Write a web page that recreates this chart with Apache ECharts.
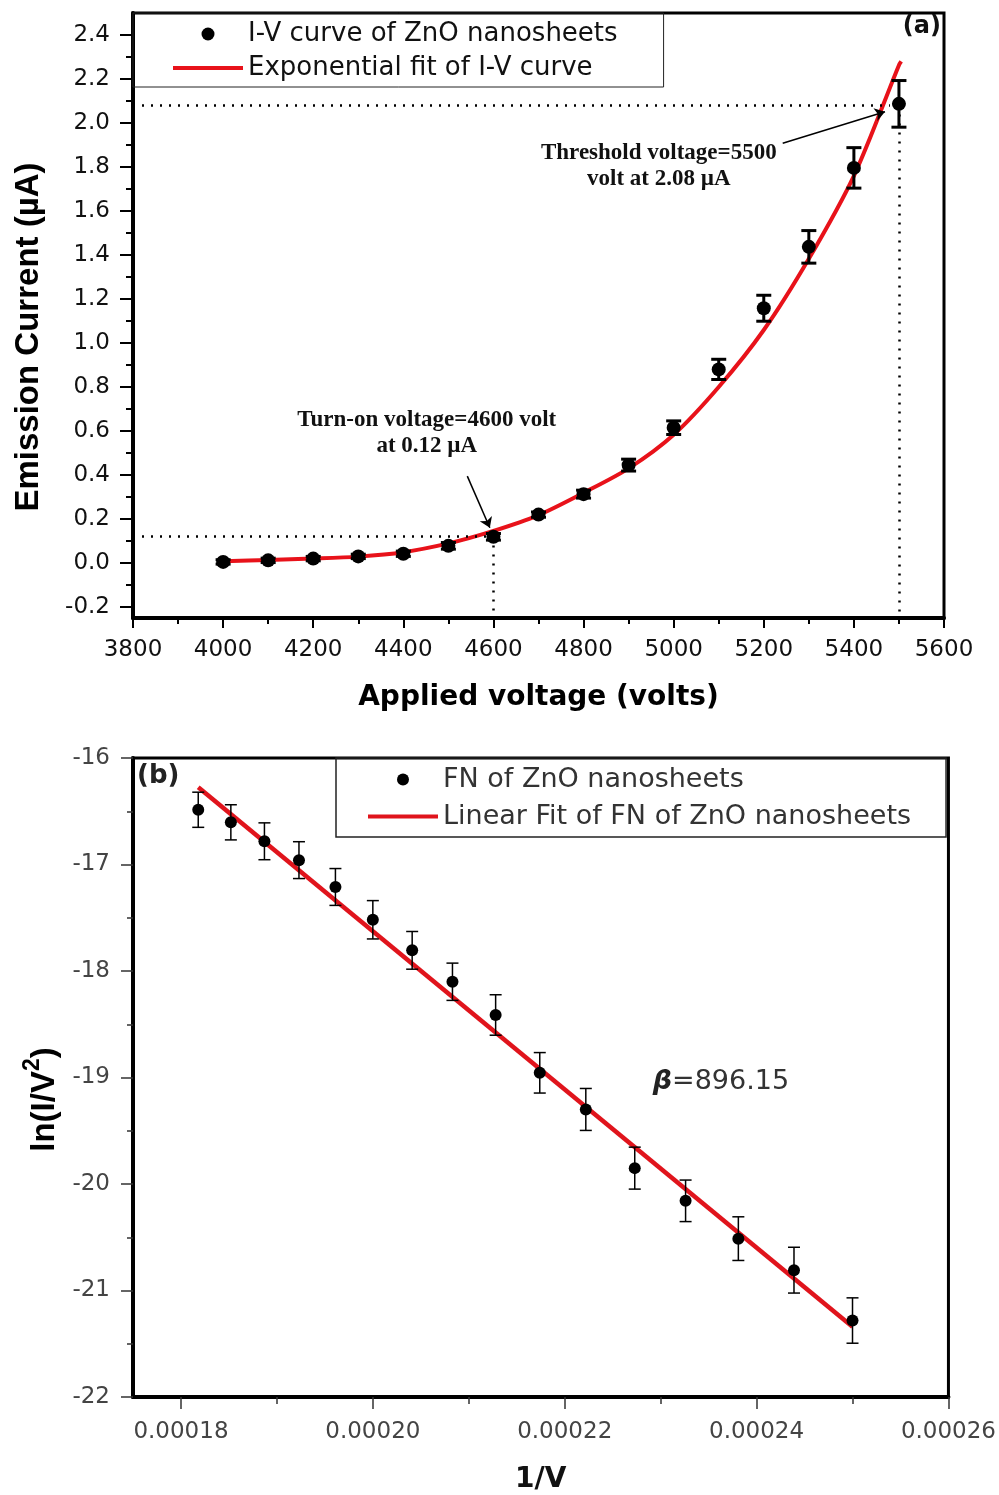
<!DOCTYPE html>
<html>
<head>
<meta charset="utf-8">
<title>ZnO nanosheets field emission</title>
<script src="https://cdn.jsdelivr.net/npm/echarts@6/dist/echarts.min.js"></script>
<style>
html, body { margin: 0; padding: 0; background: #fff; }
#main { width: 999px; height: 1495px; }
</style>
</head>
<body>
<div id="main"></div>
<script>
// (a) I-V curve
var voltage = [4000, 4100, 4200, 4300, 4400, 4500, 4600, 4700, 4800, 4900, 5000, 5100, 5200, 5300, 5400, 5500];
var current = [0.005, 0.012, 0.02, 0.03, 0.042, 0.078, 0.119, 0.22, 0.313, 0.445, 0.615, 0.88, 1.158, 1.437, 1.796, 2.087];
var currentErr = [0.01, 0.01, 0.01, 0.01, 0.012, 0.015, 0.015, 0.012, 0.018, 0.027, 0.031, 0.046, 0.059, 0.074, 0.092, 0.106];
var fitVoltage = [4000, 4100, 4200, 4300, 4400, 4500, 4600, 4700, 4800, 4900, 5000, 5100, 5200, 5300, 5400, 5500, 5505];
var fitCurrent = [0.008, 0.014, 0.02, 0.029, 0.049, 0.089, 0.146, 0.218, 0.319, 0.43, 0.583, 0.8, 1.059, 1.383, 1.76, 2.263, 2.28];
var ivTicks = [-0.2, 0, 0.2, 0.4, 0.6, 0.8, 1.0, 1.2, 1.4, 1.6, 1.8, 2.0, 2.2, 2.4];
var ivMinorTicks = [-0.1, 0.1, 0.3, 0.5, 0.7, 0.9, 1.1, 1.3, 1.5, 1.7, 1.9, 2.1, 2.3];
var turnOn = [4600, 0.12];
var threshold = [5500, 2.08];

// (b) FN plot
var invV = [0.0001818, 0.0001852, 0.0001887, 0.0001923, 0.0001961, 0.0002, 0.0002041, 0.0002083,
            0.0002128, 0.0002174, 0.0002222, 0.0002273, 0.0002326, 0.0002381, 0.0002439, 0.00025];
var lnIV2 = [-16.486, -16.604, -16.782, -16.959, -17.211, -17.519, -17.806, -18.101,
             -18.413, -18.956, -19.3, -19.851, -20.158, -20.513, -20.809, -21.282];
var lnErr = [0.165, 0.165, 0.173, 0.173, 0.173, 0.18, 0.177, 0.175,
             0.19, 0.19, 0.197, 0.197, 0.195, 0.205, 0.215, 0.213];
var fnFitX = [0.0001818, 0.00025];
var fnFitY = [-16.275, -21.34];
var fnTicks = [0.00018, 0.0002, 0.00022, 0.00024, 0.00026];
var fnMinorTicks = [0.00019, 0.00021, 0.00023, 0.00025];

function pairs(xs, ys) {
    var out = [];
    for (var i = 0; i < xs.length; i++) out.push([xs[i], ys[i]]);
    return out;
}
function triples(xs, ys, es) {
    var out = [];
    for (var i = 0; i < xs.length; i++) out.push([xs[i], ys[i], es[i]]);
    return out;
}

function errorBar(capW, lw) {
    return function (params, api) {
        var x = api.value(0), y = api.value(1), e = api.value(2);
        var hi = api.coord([x, y + e]);
        var lo = api.coord([x, y - e]);
        var st = { stroke: '#000', lineWidth: lw };
        return {
            type: 'group',
            children: [
                { type: 'line', shape: { x1: hi[0], y1: hi[1], x2: lo[0], y2: lo[1] }, style: st },
                { type: 'line', shape: { x1: hi[0] - capW / 2, y1: hi[1], x2: hi[0] + capW / 2, y2: hi[1] }, style: st },
                { type: 'line', shape: { x1: lo[0] - capW / 2, y1: lo[1], x2: lo[0] + capW / 2, y2: lo[1] }, style: st }
            ]
        };
    };
}

var tickFont = 'DejaVu Sans';
var dotted = { color: '#000', width: 2.5, type: [2, 7] };
var lineIcon = 'path://M0,0H70V4H0Z';

var myChart = echarts.init(document.getElementById('main'));
var option = {
    animation: false,
    backgroundColor: '#fff',
    grid: [
        { left: 133, right: 55, top: 13, height: 605, show: true, borderColor: '#000', borderWidth: 3 },
        { left: 133, right: 50, top: 758, height: 640, show: true, borderColor: '#000', borderWidth: 3 }
    ],
    legend: [
        {
            data: [{ name: 'I-V curve of ZnO nanosheets', icon: 'circle' },
                   { name: 'Exponential fit of I-V curve', icon: lineIcon }],
            orient: 'vertical', left: 133, top: 13,
            padding: [8, 46, 6, 40], itemGap: 8, itemWidth: 70, itemHeight: 13,
            borderColor: '#222', borderWidth: 1, selectedMode: false,
            textStyle: { fontFamily: tickFont, fontSize: 26, lineHeight: 26, color: '#111' }
        },
        {
            data: [{ name: 'FN of ZnO nanosheets', icon: 'circle' },
                   { name: 'Linear Fit of FN of ZnO nanosheets', icon: lineIcon }],
            orient: 'vertical', left: 336, top: 758,
            padding: [8, 35, 7, 32], itemGap: 10, itemWidth: 70, itemHeight: 12,
            borderColor: '#222', borderWidth: 1.5, selectedMode: false,
            textStyle: { fontFamily: tickFont, fontSize: 27, lineHeight: 27, color: '#333' }
        }
    ],
    xAxis: [
        {
            gridIndex: 0, type: 'value', min: 3800, max: 5600, interval: 200,
            name: 'Applied voltage (volts)', nameLocation: 'middle', nameGap: 66,
            nameTextStyle: { fontFamily: tickFont, fontWeight: 'bold', fontSize: 28, color: '#000' },
            axisLine: { onZero: false, lineStyle: { color: '#000', width: 4 } },
            axisTick: { length: 10, lineStyle: { color: '#000', width: 2 } },
            minorTick: { show: true, splitNumber: 2, length: 6, lineStyle: { color: '#000', width: 2 } },
            axisLabel: {
                margin: 21, fontFamily: tickFont, fontSize: 23, color: '#111',
                formatter: function (v) { return String(v); }
            },
            splitLine: { show: false }
        },
        {
            gridIndex: 1, type: 'value', min: 0.000175, max: 0.00026,
            name: '1/V', nameLocation: 'middle', nameGap: 69,
            nameTextStyle: { fontFamily: tickFont, fontWeight: 'bold', fontSize: 28, color: '#111' },
            axisLine: { onZero: false, lineStyle: { color: '#000', width: 4 } },
            axisTick: { customValues: fnTicks, length: 12, lineStyle: { color: '#333', width: 1.5 } },
            axisLabel: {
                customValues: fnTicks, margin: 24, fontFamily: tickFont, fontSize: 23, color: '#444',
                formatter: function (v) { return v.toFixed(5); }
            },
            splitLine: { show: false }
        },
        {
            gridIndex: 1, type: 'value', min: 0.000175, max: 0.00026, position: 'bottom',
            axisLine: { show: false, onZero: false }, axisLabel: { show: false }, splitLine: { show: false },
            axisTick: { customValues: fnMinorTicks, length: 7, lineStyle: { color: '#333', width: 1.5 } }
        }
    ],
    yAxis: [
        {
            gridIndex: 0, type: 'value', min: -0.25, max: 2.5, position: 'left',
            name: 'Emission Current (µA)', nameLocation: 'middle', nameGap: 88,
            nameTextStyle: { fontFamily: 'Liberation Sans', fontWeight: 'bold', fontSize: 33, color: '#000', padding: [0, 43, 0, 0] },
            axisLine: { onZero: false, lineStyle: { color: '#000', width: 4 } },
            axisTick: { customValues: ivTicks, length: 13, lineStyle: { color: '#000', width: 2 } },
            axisLabel: {
                customValues: ivTicks, margin: 23, fontFamily: tickFont, fontSize: 23, color: '#111',
                formatter: function (v) { return v.toFixed(1); }
            },
            splitLine: { show: false }
        },
        {
            gridIndex: 0, type: 'value', min: -0.25, max: 2.5, position: 'left',
            axisLine: { show: false, onZero: false }, axisLabel: { show: false }, splitLine: { show: false },
            axisTick: { customValues: ivMinorTicks, length: 7, lineStyle: { color: '#000', width: 2 } }
        },
        {
            gridIndex: 1, type: 'value', min: -22, max: -16, interval: 1, position: 'left',
            name: '{a|ln(I/V}{s|2}{a|)}', nameLocation: 'middle', nameGap: 66,
            nameTextStyle: {
                padding: [0, 44, 0, 0],
                rich: {
                    a: { fontFamily: 'Liberation Sans', fontWeight: 'bold', fontSize: 33, color: '#000', lineHeight: 40, verticalAlign: 'bottom' },
                    s: { fontFamily: 'Liberation Sans', fontWeight: 'bold', fontSize: 23, color: '#000', verticalAlign: 'top' }
                }
            },
            axisLine: { onZero: false, lineStyle: { color: '#000', width: 4 } },
            axisTick: { length: 12, lineStyle: { color: '#333', width: 1.5 } },
            minorTick: { show: true, splitNumber: 2, length: 6, lineStyle: { color: '#333', width: 1.5 } },
            axisLabel: { margin: 23, fontFamily: tickFont, fontSize: 23, color: '#444' },
            splitLine: { show: false }
        }
    ],
    graphic: [
        { type: 'text', right: 58, top: 15, style: { text: '(a)', font: 'bold 24px "DejaVu Sans"', fill: '#111' } },
        { type: 'text', left: 137, top: 763, style: { text: '(b)', font: 'bold 26px "DejaVu Sans"', fill: '#222' } }
    ],
    series: [
        {
            name: 'Exponential fit of I-V curve', type: 'line', xAxisIndex: 0, yAxisIndex: 0,
            data: pairs(fitVoltage, fitCurrent), smooth: 0.3, symbol: 'none', z: 3,
            itemStyle: { color: '#e8121a' },
            lineStyle: { color: '#e8121a', width: 4 },
            markLine: {
                silent: true, symbol: ['none', 'none'], label: { show: false },
                lineStyle: dotted,
                data: [
                    [{ coord: [3800, threshold[1]] }, { coord: [5480, threshold[1]] }],
                    [{ coord: [threshold[0], threshold[1]] }, { coord: [threshold[0], -0.25] }],
                    [{ coord: [3800, turnOn[1]] }, { coord: [turnOn[0], turnOn[1]] }],
                    [{ coord: [turnOn[0], turnOn[1]] }, { coord: [turnOn[0], -0.25] }]
                ]
            },
            markPoint: {
                silent: true, symbol: 'rect', symbolSize: 1, itemStyle: { color: 'rgba(0,0,0,0)' },
                label: {
                    show: true, position: 'inside', align: 'center', verticalAlign: 'middle',
                    fontFamily: 'Liberation Serif', fontWeight: 'bold', fontSize: 23, lineHeight: 26, color: '#111'
                },
                data: [
                    { coord: [4967, 1.805], label: { formatter: 'Threshold voltage=5500\nvolt at 2.08 µA' } },
                    { coord: [4452, 0.59], label: { formatter: 'Turn-on voltage=4600 volt\nat 0.12 µA' } }
                ]
            }
        },
        {
            name: 'I-V error', type: 'custom', xAxisIndex: 0, yAxisIndex: 0, z: 4,
            renderItem: errorBar(15, 3), encode: { x: 0, y: 1 },
            data: triples(voltage, current, currentErr)
        },
        {
            name: 'I-V curve of ZnO nanosheets', type: 'scatter', xAxisIndex: 0, yAxisIndex: 0, z: 5,
            data: pairs(voltage, current), symbol: 'circle', symbolSize: 14,
            itemStyle: { color: '#000', opacity: 1 },
            markLine: {
                silent: true, symbol: ['none', 'arrow'], symbolSize: 10, label: { show: false },
                lineStyle: { color: '#000', width: 1.5, type: 'solid' },
                data: [
                    [{ coord: [5242, 1.908] }, { coord: [5469, 2.051] }],
                    [{ coord: [4542, 0.395] }, { coord: [4592, 0.16] }]
                ]
            }
        },
        {
            name: 'Linear Fit of FN of ZnO nanosheets', type: 'line', xAxisIndex: 1, yAxisIndex: 2,
            data: pairs(fnFitX, fnFitY), symbol: 'none', z: 3,
            itemStyle: { color: '#e0141c' },
            lineStyle: { color: '#e0141c', width: 4.5 },
            markPoint: {
                silent: true, symbol: 'rect', symbolSize: 1, itemStyle: { color: 'rgba(0,0,0,0)' },
                label: {
                    show: true, position: 'inside', align: 'left', verticalAlign: 'middle',
                    formatter: '{b|β}{t|=896.15}',
                    rich: {
                        b: { fontFamily: 'DejaVu Sans', fontStyle: 'italic', fontWeight: 'bold', fontSize: 27, color: '#222' },
                        t: { fontFamily: 'DejaVu Sans', fontSize: 27, color: '#333' }
                    }
                },
                data: [{ coord: [0.00022917, -19.04] }]
            }
        },
        {
            name: 'FN error', type: 'custom', xAxisIndex: 1, yAxisIndex: 2, z: 4,
            renderItem: errorBar(12, 1.5), encode: { x: 0, y: 1 },
            data: triples(invV, lnIV2, lnErr)
        },
        {
            name: 'FN of ZnO nanosheets', type: 'scatter', xAxisIndex: 1, yAxisIndex: 2, z: 5,
            data: pairs(invV, lnIV2), symbol: 'circle', symbolSize: 12,
            itemStyle: { color: '#000', opacity: 1 }
        }
    ]
};
myChart.setOption(option);
</script>
</body>
</html>
